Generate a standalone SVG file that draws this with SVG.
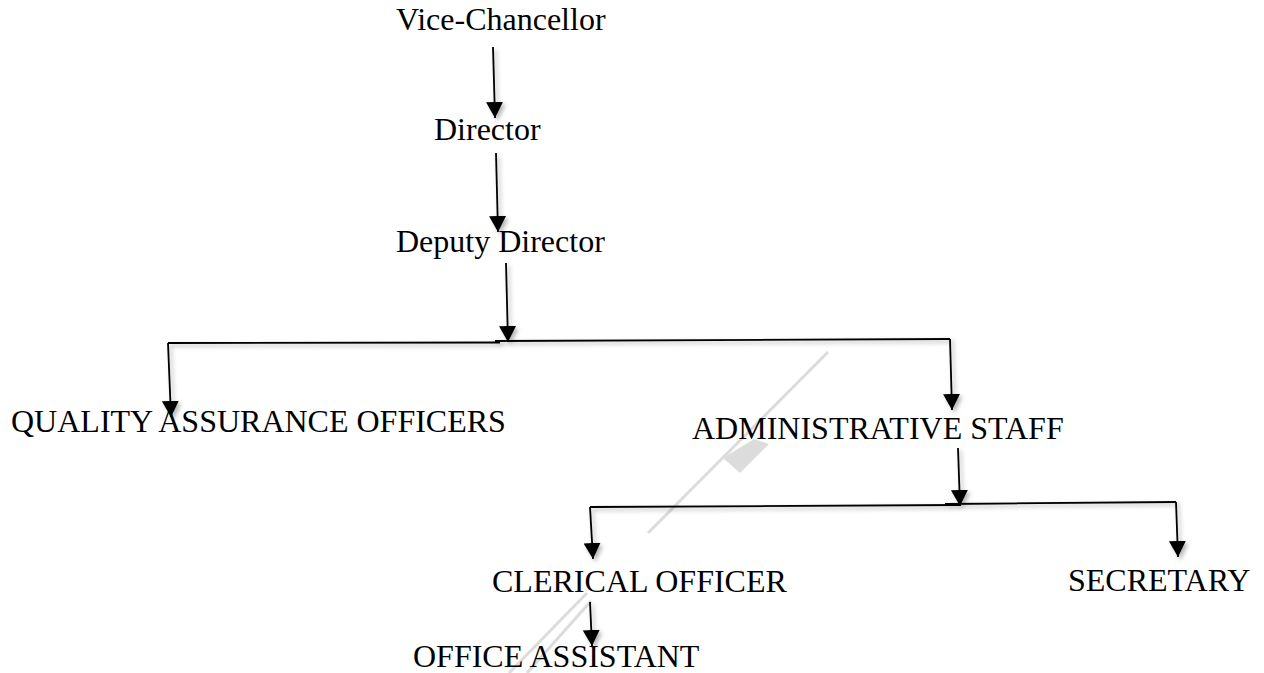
<svg xmlns="http://www.w3.org/2000/svg" width="1264" height="673" viewBox="0 0 1264 673">
  <style>
    .lbl { font-family: "Liberation Serif", "Times New Roman", "DejaVu Serif", serif; font-size: 32px; fill: #000; }
    .conn { stroke: #000; stroke-width: 1.8; fill: none; }
    .wm { stroke: #dcdcdc; stroke-width: 3; fill: none; stroke-linecap: butt; }
  </style>
  <defs>
    <marker id="arrow" markerUnits="userSpaceOnUse" markerWidth="18" markerHeight="18" refX="16" refY="9" orient="auto">
      <path d="M0,0.5 L16,9 L0,17.5 Z" fill="#000"/>
    </marker>
    <filter id="shadow" x="-50%" y="-20%" width="200%" height="140%">
      <feDropShadow dx="2.5" dy="2.5" stdDeviation="2" flood-color="#000" flood-opacity="0.3"/>
    </filter>
  </defs>
  <rect width="1264" height="673" fill="#fff"/>

  <g id="watermark">
    <line class="wm" x1="828" y1="352" x2="648" y2="533"/>
    <polygon points="723,458 754,439 769,444 740,473" fill="#dcdcdc"/>
    <line class="wm" x1="587" y1="593" x2="509" y2="673" stroke-width="2.5" stroke="#e2e2e2"/>
    <line class="wm" x1="591" y1="601" x2="527" y2="673" stroke-width="2.5" stroke="#e2e2e2"/>
  </g>

  <g id="connectors" filter="url(#shadow)">
    <line class="conn" x1="493" y1="47" x2="495" y2="118" marker-end="url(#arrow)"/>
    <line class="conn" x1="496" y1="153" x2="498" y2="232" marker-end="url(#arrow)"/>
    <line class="conn" x1="506" y1="263" x2="508" y2="342" marker-end="url(#arrow)"/>
    <polyline class="conn" points="168,343 500,342.5"/>
    <polyline class="conn" points="495,341 950,339"/>
    <line class="conn" x1="168" y1="343" x2="171" y2="417" marker-end="url(#arrow)"/>
    <line class="conn" x1="950" y1="339" x2="952" y2="410" marker-end="url(#arrow)"/>
    <line class="conn" x1="958" y1="448" x2="960" y2="506" marker-end="url(#arrow)"/>
    <polyline class="conn" points="590,507 960,505"/>
    <polyline class="conn" points="945,504 1176,502"/>
    <line class="conn" x1="590" y1="507" x2="593" y2="559" marker-end="url(#arrow)"/>
    <line class="conn" x1="1176" y1="502" x2="1178" y2="557" marker-end="url(#arrow)"/>
    <line class="conn" x1="590" y1="602" x2="592" y2="646" marker-end="url(#arrow)"/>
  </g>

  <g id="node-vice-chancellor"><text class="lbl" x="396" y="30">Vice-Chancellor</text></g>
  <g id="node-director"><text class="lbl" x="434" y="140">Director</text></g>
  <g id="node-deputy-director"><text class="lbl" x="396" y="252">Deputy Director</text></g>
  <g id="node-qao"><text class="lbl" x="11" y="432">QUALITY ASSURANCE OFFICERS</text></g>
  <g id="node-admin-staff"><text class="lbl" x="692" y="439">ADMINISTRATIVE STAFF</text></g>
  <g id="node-clerical-officer"><text class="lbl" x="492" y="592">CLERICAL OFFICER</text></g>
  <g id="node-secretary"><text class="lbl" x="1068" y="591">SECRETARY</text></g>
  <g id="node-office-assistant"><text class="lbl" x="413" y="667">OFFICE ASSISTANT</text></g>
</svg>
